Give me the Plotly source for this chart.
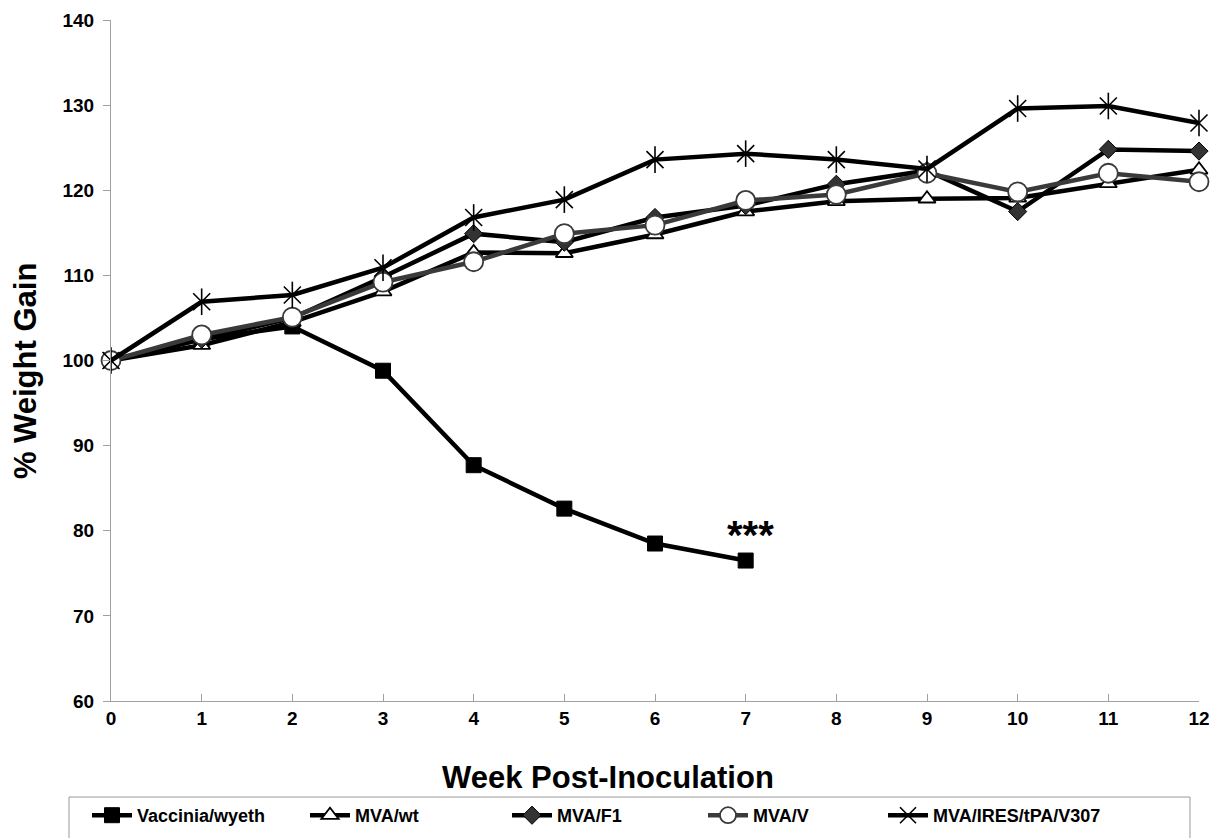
import plotly.graph_objects as go

weeks = list(range(13))
vaccinia_wyeth = [100, 102.5, 104.0, 98.8, 87.7, 82.6, 78.5, 76.5]
mva_wt = [100, 101.8, 104.5, 108.1, 112.7, 112.6, 114.8, 117.5, 118.7, 119.0, 119.1, 120.8, 122.4]
mva_f1 = [100, 102.5, 105.0, 109.8, 114.9, 113.9, 116.8, 118.2, 120.7, 122.3, 117.5, 124.8, 124.6]
mva_v = [100, 103.0, 105.1, 109.2, 111.6, 114.9, 115.9, 118.8, 119.5, 122.0, 119.8, 122.0, 121.0]
mva_ires = [100, 106.9, 107.7, 110.9, 116.8, 118.9, 123.6, 124.3, 123.6, 122.5, 129.6, 129.9, 127.9]
names = ["Vaccinia/wyeth", "MVA/wt", "MVA/F1", "MVA/V", "MVA/IRES/tPA/V307"]
y_ticks = [60, 70, 80, 90, 100, 110, 120, 130, 140]
x_title = "Week Post-Inoculation"
y_title = "% Weight Gain"

FONT = "Liberation Sans, Arial, sans-serif"
LW = 4.5

fig = go.Figure()
fig.add_trace(go.Scatter(
    x=weeks[:len(vaccinia_wyeth)], y=vaccinia_wyeth, name=names[0], mode="lines+markers",
    line=dict(color="black", width=LW), legend="legend",
    marker=dict(symbol="square", size=15, color="black", line=dict(color="black", width=1)),
    cliponaxis=False))
fig.add_trace(go.Scatter(
    x=weeks, y=mva_wt, name=names[1], mode="lines+markers",
    line=dict(color="black", width=LW), legend="legend2",
    marker=dict(symbol="triangle-up", size=15, color="white", line=dict(color="black", width=1.8)),
    cliponaxis=False))
fig.add_trace(go.Scatter(
    x=weeks, y=mva_f1, name=names[2], mode="lines+markers",
    line=dict(color="black", width=LW), legend="legend3",
    marker=dict(symbol="diamond", size=14, color="#333333", line=dict(color="black", width=1)),
    cliponaxis=False))
fig.add_trace(go.Scatter(
    x=weeks, y=mva_v, name=names[3], mode="lines+markers",
    line=dict(color="#3a3a3a", width=LW), legend="legend4",
    marker=dict(symbol="circle", size=19, color="white", line=dict(color="#3a3a3a", width=1.8)),
    cliponaxis=False))
fig.add_trace(go.Scatter(
    x=weeks, y=mva_ires, name=names[4], mode="lines+markers",
    line=dict(color="black", width=LW), legend="legend5",
    marker=dict(symbol="x-thin-open", size=17, color="black", line=dict(color="black", width=1.6)),
    cliponaxis=False))
fig.add_trace(go.Scatter(
    x=weeks, y=mva_ires, name=names[4], mode="markers", showlegend=False,
    marker=dict(symbol="line-ns-open", size=19, color="black", line=dict(color="black", width=1.6)),
    cliponaxis=False))

fig.add_annotation(x=7.05, y=79.5, text="<b>***</b>", showarrow=False,
                   font=dict(family=FONT, size=40, color="black"))

# axis titles (placed as in the reference)
fig.add_annotation(xref="paper", yref="paper", x=0.457, y=-0.113, xanchor="center", yanchor="middle",
                   text=x_title, showarrow=False,
                   font=dict(family=FONT, size=31, color="black", weight="bold"))
fig.add_annotation(xref="paper", yref="paper", x=-0.078, y=0.4846, xanchor="center", yanchor="middle",
                   text=y_title, textangle=-90, showarrow=False,
                   font=dict(family=FONT, size=31, color="black", weight="bold"))

# legend frame (paper coords)
fig.add_shape(type="rect", xref="paper", yref="paper",
              x0=-0.0386, x1=0.9917, y0=-0.141, y1=-0.25,
              line=dict(color="#999999", width=1), fillcolor="rgba(0,0,0,0)", layer="below")

leg_px = [87, 305, 507, 703, 883]
legend_common = dict(orientation="h", xanchor="left", yref="container", y=0.0494, yanchor="top",
                     borderwidth=0, bgcolor="rgba(0,0,0,0)", itemwidth=40,
                     font=dict(family=FONT, size=18, color="black", weight="bold"))
legends = {}
for i, px in enumerate(leg_px):
    key = "legend" if i == 0 else f"legend{i + 1}"
    legends[key] = dict(legend_common, x=(px - 111) / 1088)

fig.update_layout(
    width=1218, height=830,
    margin=dict(l=103, r=27, t=12, b=137),
    paper_bgcolor="white", plot_bgcolor="white",
    font=dict(family=FONT, color="black"),
    showlegend=True,
    **legends,
    xaxis=dict(range=[0, 12], tickvals=weeks, ticktext=[str(w) for w in weeks],
               showgrid=False, zeroline=False, showline=True, linecolor="#a0a0a0", linewidth=1,
               ticks="inside", ticklen=7, tickcolor="#a0a0a0", automargin=False,
               tickfont=dict(family=FONT, size=19, color="black", weight="bold")),
    yaxis=dict(range=[60, 140], tickvals=y_ticks, ticktext=[str(v) for v in y_ticks],
               showgrid=False, zeroline=False, showline=True, linecolor="#a0a0a0", linewidth=1,
               ticks="outside", ticklen=7, tickcolor="#a0a0a0", automargin=False,
               ticklabelstandoff=5,
               tickfont=dict(family=FONT, size=19, color="black", weight="bold")),
)

fig.write_html("out.html")
